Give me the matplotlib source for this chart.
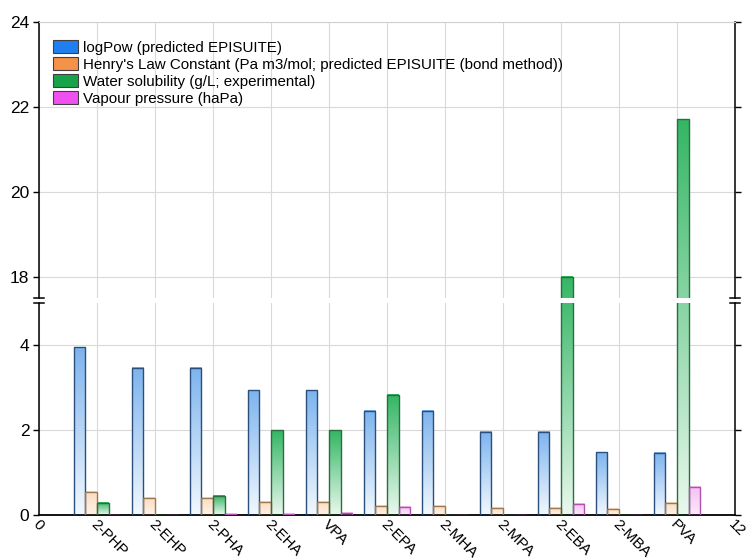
import numpy as np
import matplotlib.pyplot as plt
from matplotlib.colors import to_rgb
from matplotlib.patches import Patch
from matplotlib.transforms import ScaledTranslation

plt.rcParams['font.family'] = ['Liberation Sans', 'DejaVu Sans']

names = ['2-PHP', '2-EHP', '2-PHA', '2-EHA', 'VPA', '2-EPA', '2-MHA', '2-MPA', '2-EBA', '2-MBA', 'PVA']
logpow = [3.95, 3.46, 3.46, 2.94, 2.94, 2.46, 2.46, 1.97, 1.97, 1.48, 1.46]
henry = [0.55, 0.41, 0.41, 0.32, 0.32, 0.23, 0.23, 0.17, 0.17, 0.15, 0.29]
water = [0.29, 0.0, 0.46, 2.0, 2.0, 2.83, 0.0, 0.0, 18.0, 0.0, 21.7]
vapour = [0.0, 0.0, 0.03, 0.03, 0.06, 0.2, 0.0, 0.0, 0.26, 0.0, 0.66]

labels = ['logPow (predicted EPISUITE)',
          "Henry's Law Constant (Pa m3/mol; predicted EPISUITE (bond method))",
          'Water solubility (g/L; experimental)',
          'Vapour pressure (haPa)']
legend_colors = ['#1f7ff0', '#f5924a', '#17a34a', '#f050f0']
edge_colors = ['#2b4f7a', '#a07850', '#2a6e40', '#b050b0']
top_fill = ['#7db4ee', '#fcdcc0', '#34b664', '#f5c0f2']
bot_fill = ['#f2f8fe', '#fff2e6', '#eaf8ee', '#fde8fc']

LOW = (0, 5)
HIGH = (17.5, 24)


def vis(y):
    y = np.asarray(y, dtype=float)
    return np.where(y <= LOW[1], y, LOW[1] + (y - HIGH[0]))


fig = plt.figure(figsize=(7.47, 5.59), dpi=100)
ax_top = fig.add_axes([0.0522, 0.4669, 0.9317, 0.4943])
ax_bot = fig.add_axes([0.0522, 0.0782, 0.9317, 0.3801])

x = np.arange(1, len(names) + 1)
width = 0.2
offsets = [-0.3, -0.1, 0.1, 0.3]
all_series = [logpow, henry, water, vapour]

for ax, (lo, hi) in [(ax_top, HIGH), (ax_bot, LOW)]:
    for i, vals in enumerate(all_series):
        bars = ax.bar(x + offsets[i], vals, width, facecolor='none',
                      edgecolor=edge_colors[i], linewidth=1.0, zorder=3)
        ctop = np.array(to_rgb(top_fill[i]))
        cbot = np.array(to_rgb(bot_fill[i]))
        for b, h in zip(bars, vals):
            seg_lo, seg_hi = max(0, lo), min(h, hi)
            if h <= 0 or seg_hi <= seg_lo:
                continue
            ys = np.linspace(seg_hi, seg_lo, 80)
            frac = np.clip(vis(ys) / vis(h), 0, 1)[:, None, None]
            img = cbot + (ctop - cbot) * frac
            ax.imshow(img, extent=[b.get_x(), b.get_x() + b.get_width(), seg_lo, seg_hi],
                      aspect='auto', zorder=2, interpolation='bilinear')
    ax.set_xlim(0, 12)
    ax.set_ylim(lo, hi)
    ax.set_xticks(np.arange(0, 13))
    ax.grid(True, color='#d9d9d9', linewidth=0.8, zorder=0)
    ax.set_axisbelow(True)
    ax.tick_params(axis='y', direction='out', length=4, width=1, labelsize=12.5,
                   right=True, pad=3)
    ax.spines['left'].set_linewidth(1.1)
    ax.spines['right'].set_linewidth(1.1)

ax_top.set_yticks([18, 20, 22, 24])
ax_bot.set_yticks([0, 2, 4])
ax_top.spines['bottom'].set_visible(False)
ax_top.spines['top'].set_color('#d0d0d0')
ax_top.tick_params(axis='x', bottom=False, labelbottom=False, top=False)
ax_bot.spines['top'].set_visible(False)
ax_bot.spines['bottom'].set_linewidth(1.3)
ax_bot.tick_params(axis='x', length=0, pad=5)
ax_bot.set_xticklabels(['0'] + names + ['12'], fontsize=11, rotation=-45,
                       ha='left', va='center', rotation_mode='anchor')
for lab in ax_bot.get_xticklabels():
    lab.set_transform(lab.get_transform() + ScaledTranslation(-4 / 100, 0, fig.dpi_scale_trans))

# break marks on both vertical axes
for ax, yy in [(ax_top, 0.0), (ax_bot, 1.0)]:
    for xx in (0.0, 1.0):
        ax.plot([xx - 0.007, xx + 0.007], [yy, yy], transform=ax.transAxes,
                color='black', linewidth=1.1, clip_on=False, zorder=5)

handles = [Patch(facecolor=c, edgecolor='#404040', linewidth=0.8) for c in legend_colors]
ax_top.legend(handles, labels, loc='upper left', frameon=False, fontsize=10.9,
              handlelength=1.65, handleheight=0.95, labelspacing=0.15,
              handletextpad=0.35, borderaxespad=0, bbox_to_anchor=(0.0115, 0.955))

fig.savefig('out.png', dpi=100)
